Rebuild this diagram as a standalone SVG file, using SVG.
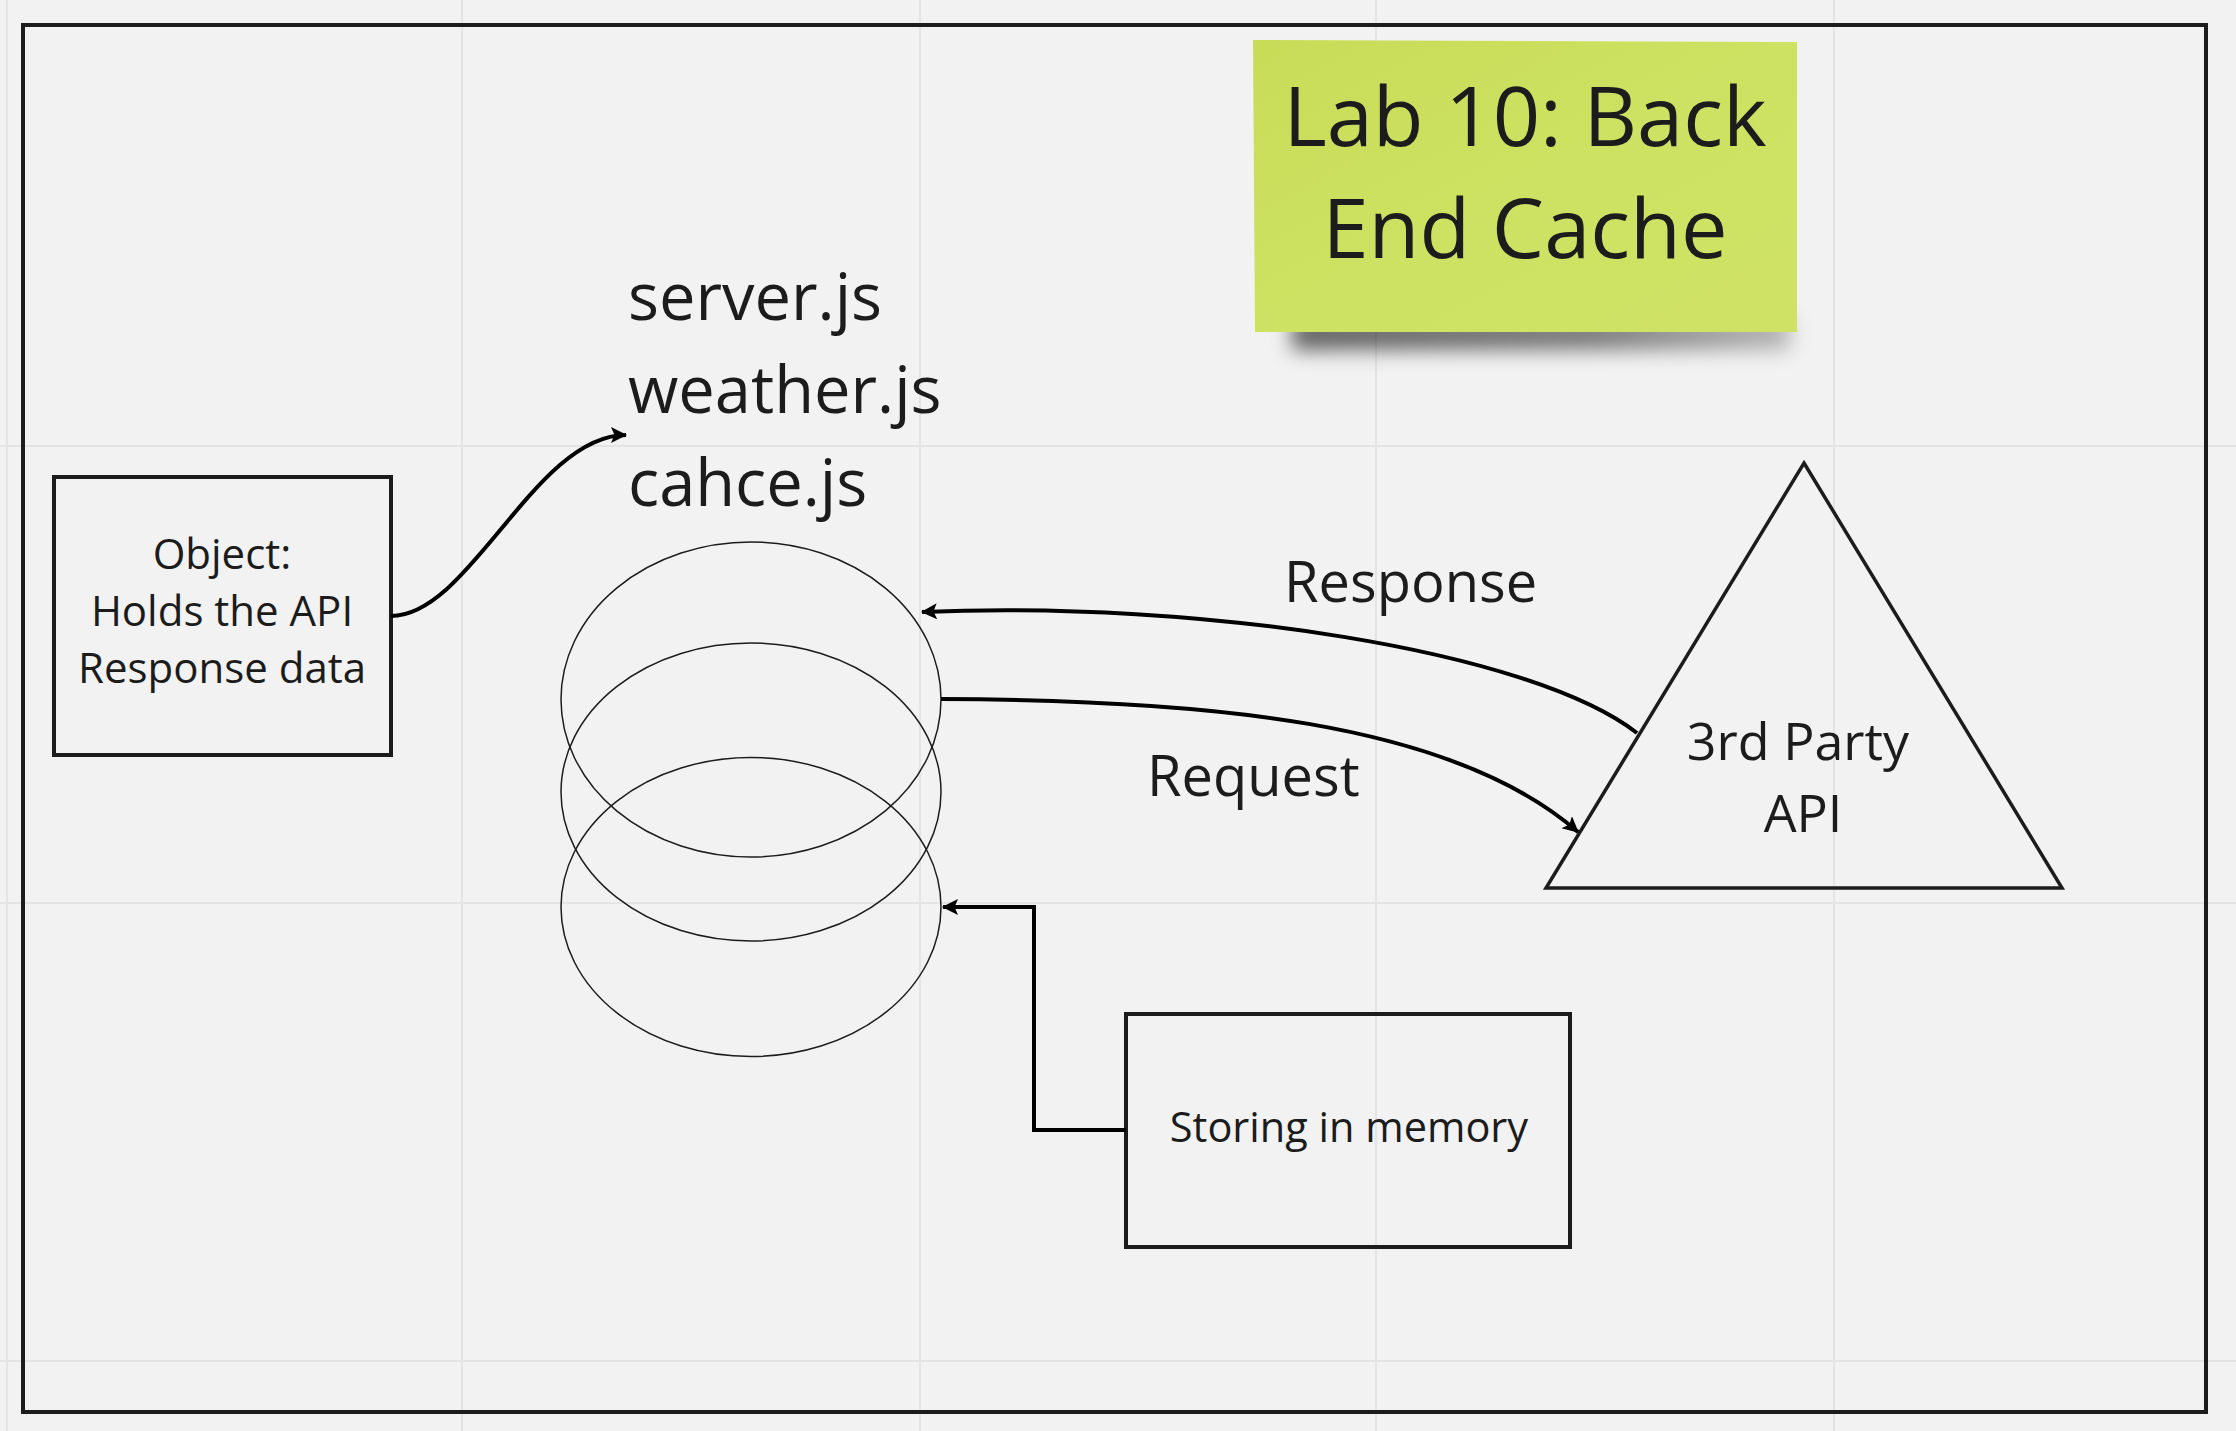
<svg xmlns="http://www.w3.org/2000/svg" width="2236" height="1431" viewBox="0 0 2236 1431">
  <style>
    .grid { stroke: #e4e4e4; stroke-width: 2; }
    .box { fill: none; stroke: #1c1c1c; stroke-width: 4; }
    .ell { fill: none; stroke: #1c1c1c; stroke-width: 1.5; }
    .conn { fill: none; stroke: #000; stroke-width: 4; }
    text { font-family: "Open Sans", "Noto Sans", "Liberation Sans", sans-serif; fill: #1c1c1c; }
    .mid { text-anchor: middle; }
  </style>
  <defs>
    <marker id="arrow" markerUnits="userSpaceOnUse" markerWidth="18" markerHeight="18" refX="15" refY="8" orient="auto">
      <path d="M0,0 L16,8 L0,16 L3.5,8 Z" fill="#000"/>
    </marker>
    <linearGradient id="sticky" x1="0" y1="0" x2="1" y2="1">
      <stop offset="0" stop-color="#c9dc58"/>
      <stop offset="0.5" stop-color="#cde262"/>
      <stop offset="1" stop-color="#cfe266"/>
    </linearGradient>
    <linearGradient id="shadowGrad" x1="0" y1="0" x2="1" y2="0">
      <stop offset="0" stop-color="#000" stop-opacity="0.6"/>
      <stop offset="0.6" stop-color="#000" stop-opacity="0.5"/>
      <stop offset="1" stop-color="#000" stop-opacity="0.25"/>
    </linearGradient>
    <filter id="blur" x="-20%" y="-100%" width="140%" height="300%">
      <feGaussianBlur stdDeviation="10"/>
    </filter>
  </defs>

  <rect x="0" y="0" width="2236" height="1431" fill="#f2f2f2"/>

  <g id="grid">
    <line class="grid" x1="7" y1="0" x2="7" y2="1431"/>
    <line class="grid" x1="462" y1="0" x2="462" y2="1431"/>
    <line class="grid" x1="920" y1="0" x2="920" y2="1431"/>
    <line class="grid" x1="1376" y1="0" x2="1376" y2="1431"/>
    <line class="grid" x1="1834" y1="0" x2="1834" y2="1431"/>
    <line class="grid" x1="0" y1="446" x2="2236" y2="446"/>
    <line class="grid" x1="0" y1="903" x2="2236" y2="903"/>
    <line class="grid" x1="0" y1="1361" x2="2236" y2="1361"/>
  </g>

  <g id="frame">
    <rect x="23" y="25" width="2183" height="1387" fill="none" stroke="#1c1c1c" stroke-width="4"/>
  </g>

  <g id="sticky-note">
    <rect x="1292" y="318" width="498" height="32" fill="url(#shadowGrad)" filter="url(#blur)"/>
    <path d="M1253,40 L1797,42 L1797,332 L1255,332 Z" fill="url(#sticky)"/>
    <text class="mid" x="1525" y="146" font-size="83">Lab 10: Back</text>
    <text class="mid" x="1525" y="258" font-size="83">End Cache</text>
  </g>

  <g id="files-label">
    <text x="628" y="320" font-size="65">server.js</text>
    <text x="628" y="413" font-size="65">weather.js</text>
    <text x="628" y="506" font-size="65">cahce.js</text>
  </g>

  <g id="object-box">
    <rect class="box" x="54" y="477" width="337" height="278"/>
    <text class="mid" x="222" y="569" font-size="42">Object:</text>
    <text class="mid" x="222" y="626" font-size="42">Holds the API</text>
    <text class="mid" x="222" y="683" font-size="42">Response data</text>
  </g>

  <g id="cache-stack">
    <ellipse class="ell" cx="751" cy="699.5" rx="190" ry="157.5"/>
    <ellipse class="ell" cx="751" cy="792" rx="190" ry="149"/>
    <ellipse class="ell" cx="751" cy="907" rx="190" ry="149.5"/>
  </g>

  <g id="third-party-api">
    <polygon points="1804,463 2062,888 1546,888" fill="none" stroke="#1c1c1c" stroke-width="3.5" stroke-linejoin="miter"/>
    <text class="mid" x="1798" y="760" font-size="52">3rd Party</text>
    <text class="mid" x="1803" y="832" font-size="52">API</text>
  </g>

  <g id="storing-box">
    <rect class="box" x="1126" y="1014" width="444" height="233"/>
    <text class="mid" x="1349" y="1142" font-size="41.5">Storing in memory</text>
  </g>

  <g id="connectors">
    <path class="conn" d="M391,616 C470,616 535,435 626,435" marker-end="url(#arrow)"/>
    <path class="conn" d="M1637,733 C1530,650 1200,600 922,612" marker-end="url(#arrow)"/>
    <path class="conn" d="M941,699 C1200,700 1450,720 1578,832" marker-end="url(#arrow)"/>
    <path class="conn" d="M1126,1130 L1034,1130 L1034,907 L943,907" marker-end="url(#arrow)"/>
    <text x="1284" y="602" font-size="56">Response</text>
    <text x="1147" y="796" font-size="56">Request</text>
  </g>
</svg>
